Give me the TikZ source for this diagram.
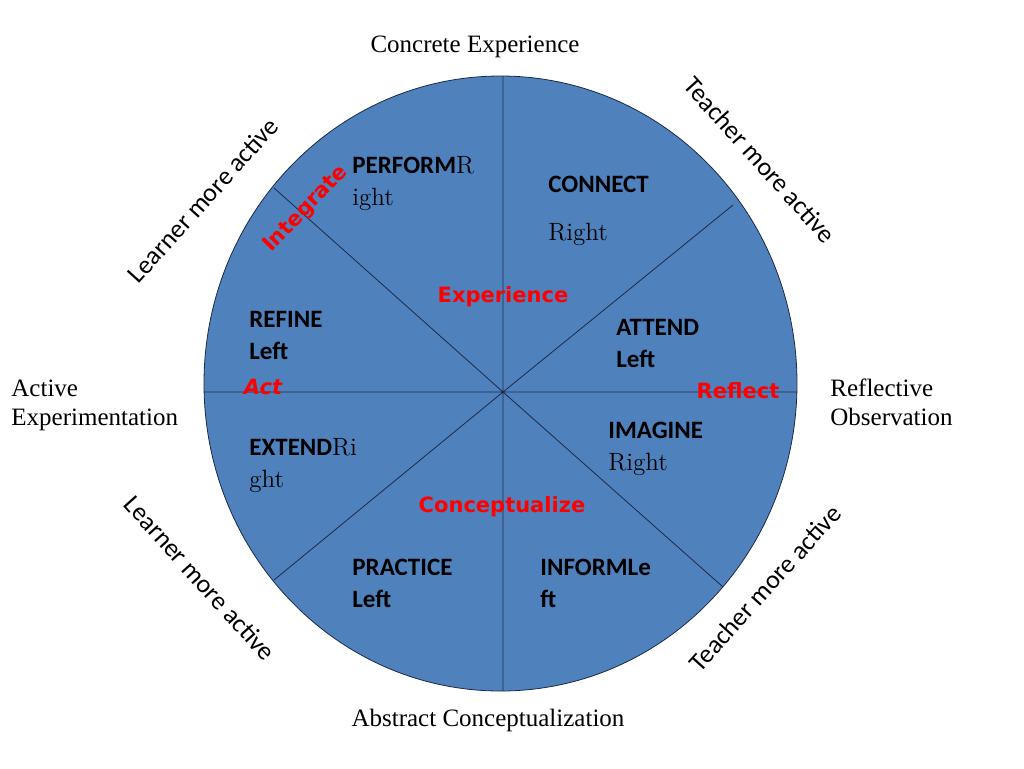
\documentclass[tikz,border=0pt]{standalone}
\usepackage{fontspec}
\setmainfont{Liberation Serif}
\newfontfamily\calib{Carlito}
\newfontfamily\comic{DejaVu Sans}
\newfontfamily\fancy{Latin Modern Roman}
\definecolor{wheel}{HTML}{4F81BD}
\definecolor{rim}{HTML}{1C2A48}

\begin{document}
\begin{tikzpicture}[x=0.5pt,y=-0.5pt,
  seg/.style={anchor=base west,align=left,inner sep=0pt,font=\calib\bfseries\fontsize{12.5}{15.75}\selectfont},
  verb/.style={text=red,inner sep=0pt,font=\comic\bfseries\fontsize{10.5}{13}\selectfont},
  pole/.style={inner sep=0pt,font=\fontsize{12.5}{14.5}\selectfont},
  who/.style={inner sep=0pt,font=\calib\fontsize{13}{15}\selectfont}]

\useasboundingbox (0,0) rectangle (1024,768);

\filldraw[fill=wheel,draw=rim,thin] (500.5,383.5) ellipse [x radius=296.5,y radius=307.5];

\coordinate (o) at (503,392);
\coordinate (n) at (503,76);
\coordinate (s) at (503,691);
\coordinate (w) at (204,392);
\coordinate (e) at (797,392);
\coordinate (nw) at (274,188);
\coordinate (se) at (723,587);
\coordinate (sw) at (274,580);
\coordinate (ne) at (733,205);

\path[draw=rim,thin] (o) -- (n) (o) -- (s) (o) -- (w) (o) -- (e)
  (o) -- (nw) (o) -- (se) (o) -- (sw) (o) -- (ne);

% anchored at the baseline of the last line
\node[seg] (perform) at (352,205) {PERFORM{\fancy\mdseries R}\\{\fancy\mdseries ight}};
\node[seg] (connect) at (548,240) {CONNECT\\[8pt]{\fancy\mdseries Right}};
\node[seg] (attend) at (616,367) {ATTEND\\Left};
\node[seg] (imagine) at (608,470) {IMAGINE\\{\fancy\mdseries Right}};
\node[seg] (inform) at (540,607) {INFORMLe\\ft};
\node[seg] (practice) at (352,607) {PRACTICE\\Left};
\node[seg] (extend) at (249,487) {EXTEND{\fancy\mdseries Ri}\\{\fancy\mdseries ght}};
\node[seg] (refine) at (249,359) {REFINE\\Left};

\node[verb] (experience) at (503,297) {Experience};
\node[verb] (reflect) at (738,391) {Reflect};
\node[verb] (conceptualize) at (502,507) {Conceptualize};
\node[verb] (act) at (263,387) {\itshape Act};
\node[verb,rotate=46] (integrate) at (306,209) {Integrate};

\node[pole] (concrete) at (475,47) {Concrete Experience};
\node[pole] (abstract) at (488,720) {Abstract Conceptualization};
\node[pole,anchor=base west,align=left] (active) at (11,425) {Active\\Experimentation};
\node[pole,anchor=base west,align=left] (reflective) at (830,425) {Reflective\\Observation};

\node[who,rotate=48] (learner1) at (203,200) {Learner more active};
\node[who,rotate=-48] (teacher1) at (760,160) {Teacher more active};
\node[who,rotate=-48] (learner2) at (200,578) {Learner more active};
\node[who,rotate=48] (teacher2) at (765,588) {Teacher more active};

\end{tikzpicture}
\end{document}
